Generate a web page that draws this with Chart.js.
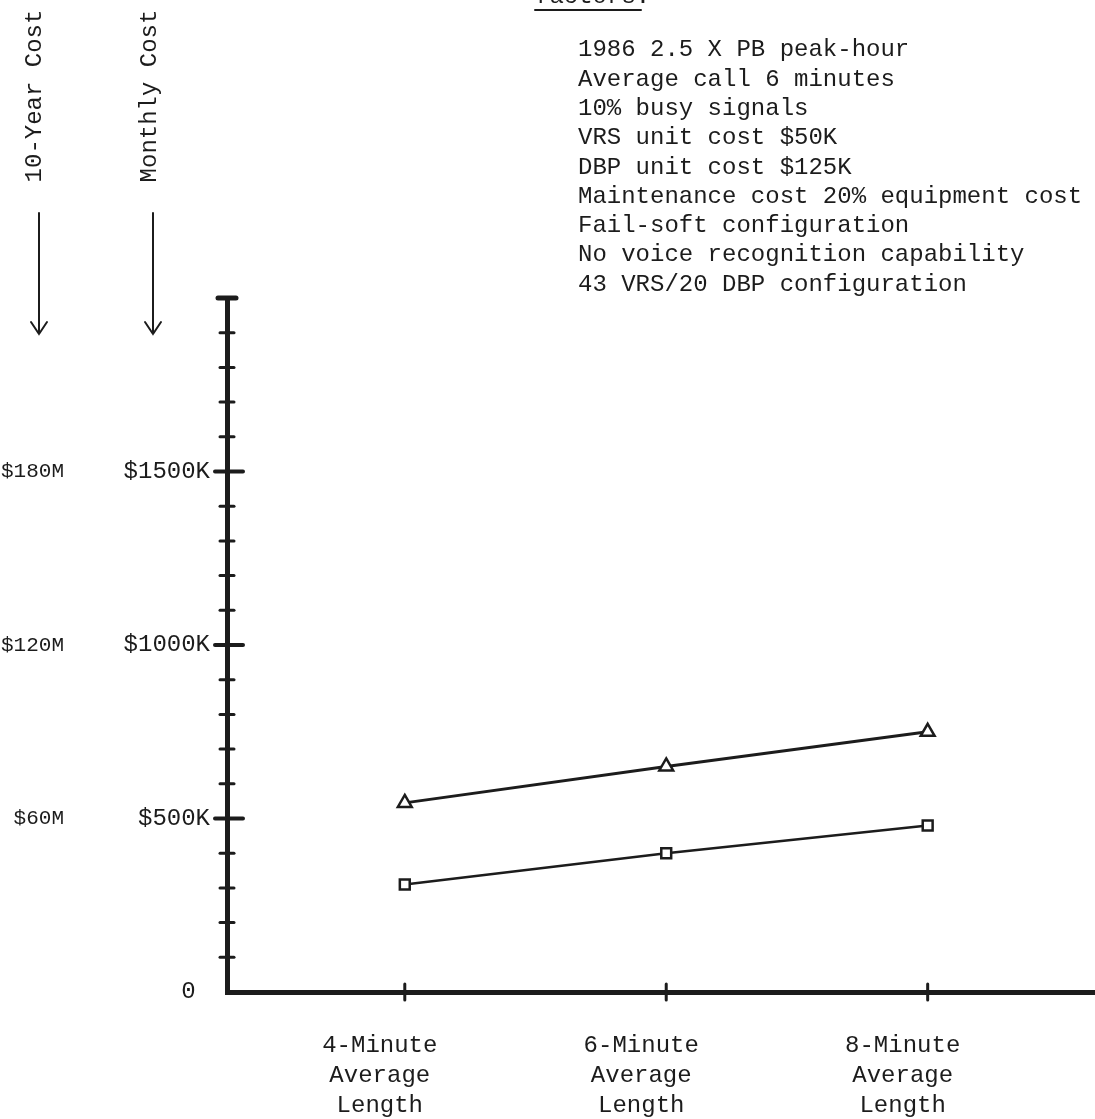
<!DOCTYPE html>
<html>
<head>
<meta charset="utf-8">
<script src="https://cdn.jsdelivr.net/npm/chart.js@4/dist/chart.umd.min.js"></script>
<style>
html, body { margin: 0; padding: 0; background: #fff; }
</style>
</head>
<body>
<canvas id="costChart" width="1095" height="1119"></canvas>
<script>
// call length in minutes (x) and the three category labels
var callLengths = [4, 6, 8];
var callLabels = [
    ["4-Minute", "Average", "Length"],
    ["6-Minute", "Average", "Length"],
    ["8-Minute", "Average", "Length"]
];
// monthly cost in $K
var triangleCost = [545, 650, 750];
var squareCost = [310, 400, 480];
// tick labels for the two left axes
var monthlyTicks = { 0: "0 ", 500: "$500K", 1000: "$1000K", 1500: "$1500K" };
var tenYearTicks = { 60: "$60M", 120: "$120M", 180: "$180M" };
var factors = [
    "1986 2.5 X PB peak-hour",
    "Average call 6 minutes",
    "10% busy signals",
    "VRS unit cost $50K",
    "DBP unit cost $125K",
    "Maintenance cost 20% equipment cost",
    "Fail-soft configuration",
    "No voice recognition capability",
    "43 VRS/20 DBP configuration"
];

var mono = "Liberation Mono, DejaVu Sans Mono, monospace";
var ink = "#1c1c1c";

// tick marks crossing the axes + the typed notes around the plot
var marksPlugin = {
    id: "marks",
    afterDraw: function(chart) {
        var ctx = chart.ctx;
        var ys = chart.scales.y, xs = chart.scales.x;
        ctx.save();
        ctx.strokeStyle = ink;
        ctx.lineCap = "round";
        var ax = ys.right;
        ys.ticks.forEach(function(t){
            if (t.value === 0) return;
            var py = ys.getPixelForValue(t.value);
            var major = t.value % 500 === 0;
            var top = t.value === ys.max;
            ctx.lineWidth = top ? 5 : (major ? 4 : 3);
            ctx.beginPath();
            if (top) { ctx.moveTo(ax - 9, py); ctx.lineTo(ax + 9, py); }
            else if (major) { ctx.moveTo(ax - 12, py); ctx.lineTo(ax + 16, py); }
            else { ctx.moveTo(ax - 7, py); ctx.lineTo(ax + 7, py); }
            ctx.stroke();
        });
        xs.ticks.forEach(function(t){
            var px = xs.getPixelForValue(t.value);
            ctx.lineWidth = 3;
            ctx.beginPath();
            ctx.moveTo(px, xs.top - 8);
            ctx.lineTo(px, xs.top + 8);
            ctx.stroke();
        });

        // axis titles with down arrows
        ctx.fillStyle = ink;
        ctx.font = "24px " + mono;
        ctx.textAlign = "center";
        ctx.textBaseline = "middle";
        [["10-Year Cost", 35, 39], ["Monthly Cost", 150, 153]].forEach(function(a){
            ctx.save();
            ctx.translate(a[1], 96);
            ctx.rotate(-Math.PI / 2);
            ctx.fillText(a[0], 0, 0);
            ctx.restore();
            ctx.lineWidth = 2;
            ctx.beginPath();
            ctx.moveTo(a[2], 213);
            ctx.lineTo(a[2], 334);
            ctx.moveTo(a[2] - 8, 322);
            ctx.lineTo(a[2], 334);
            ctx.lineTo(a[2] + 8, 322);
            ctx.stroke();
        });

        // cut-off heading at the top
        ctx.textAlign = "left";
        ctx.textBaseline = "alphabetic";
        ctx.fillText("factors.", 535, 3);
        ctx.lineWidth = 2;
        ctx.beginPath();
        ctx.moveTo(535, 10);
        ctx.lineTo(641, 10);
        ctx.stroke();

        // list of assumptions
        ctx.textBaseline = "middle";
        factors.forEach(function(line, i){
            ctx.fillText(line, 578, 50 + i * 29.3);
        });
        ctx.restore();
    }
};

var ctx = document.getElementById("costChart");

var graph = new Chart(ctx, {
    type: "line",
    data: {
        datasets: [{
            data: callLengths.map(function(v, i){ return { x: v, y: triangleCost[i] }; }),
            borderColor: ink,
            borderWidth: 3,
            pointStyle: "triangle",
            pointRadius: 8,
            pointBorderWidth: 2.5,
            pointBorderColor: ink,
            pointBackgroundColor: "#fff",
            yAxisID: "y"
        }, {
            data: callLengths.map(function(v, i){ return { x: v, y: squareCost[i] }; }),
            borderColor: ink,
            borderWidth: 2.5,
            pointStyle: "rect",
            pointRadius: 7,
            pointBorderWidth: 2.5,
            pointBorderColor: ink,
            pointBackgroundColor: "#fff",
            yAxisID: "y"
        }]
    },
    options: {
        responsive: false,
        animation: false,
        layout: { autoPadding: false, padding: { top: 298, right: 0, left: 0, bottom: 0 } },
        plugins: { legend: { display: false }, tooltip: { enabled: false } },
        scales: {
            x: {
                type: "linear",
                position: "bottom",
                min: 2.64,
                max: 9.28,
                afterBuildTicks: function(s){
                    s.ticks = callLengths.map(function(v){ return { value: v }; });
                },
                afterFit: function(s){
                    s.height = 127;
                    s.paddingLeft = 0;
                    s.paddingRight = 0;
                },
                grid: { display: false },
                border: { color: ink, width: 5 },
                ticks: {
                    autoSkip: false,
                    maxRotation: 0,
                    padding: 31,
                    labelOffset: -25,
                    color: ink,
                    font: { family: mono, size: 24, lineHeight: 1.25 },
                    callback: function(v){
                        var i = callLengths.indexOf(v);
                        return i < 0 ? "" : callLabels[i];
                    }
                }
            },
            y: {
                type: "linear",
                position: "left",
                weight: 0,
                min: 0,
                max: 2000,
                afterFit: function(s){ s.width = 155; },
                grid: { display: false },
                border: { color: ink, width: 5 },
                ticks: {
                    stepSize: 100,
                    autoSkip: false,
                    padding: 9,
                    color: ink,
                    font: { family: mono, size: 24 },
                    callback: function(v){ return monthlyTicks[v] || ""; }
                }
            },
            y10: {
                type: "linear",
                position: "left",
                weight: 1,
                min: 0,
                max: 240,
                afterFit: function(s){ s.width = 72; },
                grid: { display: false },
                border: { display: false },
                ticks: {
                    stepSize: 60,
                    autoSkip: false,
                    padding: 0,
                    color: ink,
                    font: { family: mono, size: 21 },
                    callback: function(v){ return tenYearTicks[v] || ""; }
                }
            }
        }
    },
    plugins: [marksPlugin]
});
</script>
</body>
</html>
